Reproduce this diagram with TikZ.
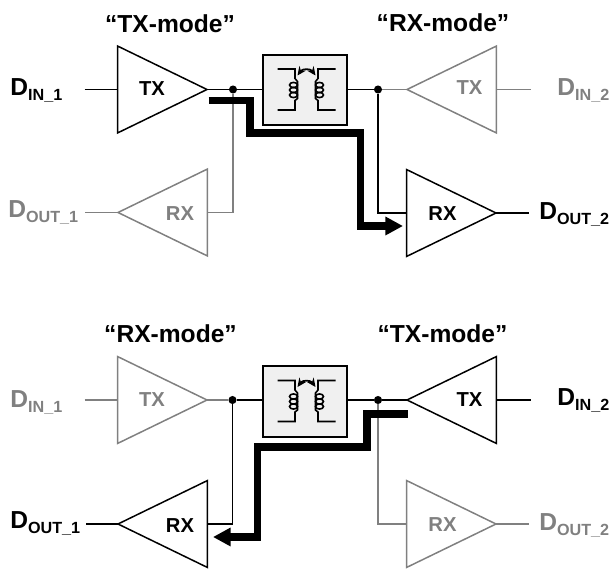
\documentclass[tikz,border=0pt]{standalone}
\usepackage{fontspec}
\setmainfont{Liberation Sans}
\usetikzlibrary{arrows.meta,shapes.geometric}
\definecolor{dimgray}{HTML}{808080}
\definecolor{xfbox}{HTML}{F0F0F0}
\newcommand{\sig}[2]{{\fontsize{14}{14}\selectfont\bfseries #1}{\fontsize{9.2}{10}\selectfont\bfseries\raisebox{-2.3pt}{#2}}}

\begin{document}
\begin{tikzpicture}[x=0.02cm,y=-0.02cm]
\tikzstyle{wire}=[line width=0.8pt];
\tikzstyle{amp}=[draw,shape=isosceles triangle,isosceles triangle stretches,minimum height=1.79cm,minimum width=1.74cm,inner sep=0pt,outer sep=0pt,line width=0.85pt,anchor=apex];
\tikzstyle{ampr}=[amp,shape border rotate=0];
\tikzstyle{ampl}=[amp,shape border rotate=180];
\tikzstyle{dot}=[fill,shape=circle,minimum size=4.6pt,inner sep=0pt];
\tikzstyle{xfmr}=[draw,fill=xfbox,minimum width=1.68cm,minimum height=1.41cm,inner sep=0pt,line width=0.9pt];
\tikzstyle{amplabel}=[font=\bfseries\fontsize{11.5}{12}\selectfont];
\tikzstyle{modelabel}=[font=\bfseries\fontsize{14}{14}\selectfont,anchor=base];
\tikzstyle{sigleft}=[anchor=base west,inner sep=0pt];
\tikzstyle{path}=[line width=4pt,-{Triangle[length=10pt,width=10pt]}];
\useasboundingbox (0,0) rectangle (612,570);

% upper half
\node[ampr] (tx1) at (207,89.5) {};
\node[ampl,dimgray] (rx1) at (118,212.5) {};
\node[ampl,dimgray] (tx2) at (407,89.5) {};
\node[ampr] (rx2) at (496,213) {};
\node[xfmr] (xf1) at (305,90) {};
\node[dot] (tap1) at (233,89.5) {};
\node[dot] (tap2) at (378,89.5) {};
\node[amplabel] at (152,88.5) {TX};
\node[amplabel,dimgray] at (180,214) {RX};
\node[amplabel,dimgray] at (469.5,88) {TX};
\node[amplabel] at (442.5,213.5) {RX};
\node[modelabel] at (170,33) {“TX-mode”};
\node[modelabel] at (443,32) {“RX-mode”};
\node[sigleft] (din1) at (10,96) {\sig{D}{IN\_1}};
\node[sigleft,dimgray] (dout1) at (8,218) {\sig{D}{OUT\_1}};
\node[sigleft,dimgray] (din2) at (557,96) {\sig{D}{IN\_2}};
\node[sigleft] (dout2) at (539,220) {\sig{D}{OUT\_2}};
\draw[wire,shorten <=12.5pt] (din1.east |- tx1.lower side) -- (tx1.lower side);
\draw[wire] (tx1.apex) -- (tap1) -- (tap1 -| xf1.west);
\draw[wire] (tap2 -| xf1.east) -- (tap2);
\draw[wire,dimgray] (tap1) |- (rx1.lower side);
\draw[wire,dimgray,shorten >=3.4pt] (rx1.apex) -- (dout1.east |- rx1.apex);
\draw[wire,dimgray] (tap2) -- (tx2.apex);
\draw[wire,dimgray,shorten >=14.7pt] (tx2.lower side) -- (din2.west |- tx2.lower side);
\draw[wire] (tap2) |- (rx2.lower side);
\draw[wire,shorten >=5.7pt] (rx2.apex) -- (dout2.west |- rx2.apex);
\coordinate (pathA) at (208.5,100.5);
\coordinate (pathB) at (403,226);
\draw[path] (pathA) -| (250,133) -| (360.5,226) -- (pathB);

% lower half
\node[ampr,dimgray] (tx3) at (207,400) {};
\node[ampl] (rx3) at (118,524) {};
\node[ampl] (tx4) at (407,400) {};
\node[ampr,dimgray] (rx4) at (496,524) {};
\node[xfmr] (xf2) at (305,401.5) {};
\node[dot] (tap3) at (232.5,400) {};
\node[dot] (tap4) at (378,400) {};
\node[amplabel,dimgray] at (152,400) {TX};
\node[amplabel] at (180,526) {RX};
\node[amplabel] at (469.5,400) {TX};
\node[amplabel,dimgray] at (442.5,525) {RX};
\node[modelabel] at (170.5,343) {“RX-mode”};
\node[modelabel] at (442.5,343) {“TX-mode”};
\node[sigleft,dimgray] (din3) at (10,408) {\sig{D}{IN\_1}};
\node[sigleft] (dout3) at (10,529) {\sig{D}{OUT\_1}};
\node[sigleft] (din4) at (557,406) {\sig{D}{IN\_2}};
\node[sigleft,dimgray] (dout4) at (539,531) {\sig{D}{OUT\_2}};
\draw[wire,dimgray,shorten <=12.5pt] (din3.east |- tx3.lower side) -- (tx3.lower side);
\draw[wire,dimgray] (tx3.apex) -- (tap3);
\draw[wire] (tap3) -- (tap3 -| xf2.west);
\draw[wire] (tap4 -| xf2.east) -- (tap4) -- (tx4.apex);
\draw[wire] (tap3) |- (rx3.lower side);
\draw[wire,shorten >=3pt] (rx3.apex) -- (dout3.east |- rx3.apex);
\draw[wire,shorten >=14.7pt] (tx4.lower side) -- (din4.west |- tx4.lower side);
\draw[wire,dimgray] (tap4) |- (rx4.lower side);
\draw[wire,dimgray,shorten >=5.7pt] (rx4.apex) -- (dout4.west |- rx4.apex);
\coordinate (pathC) at (407.5,414);
\coordinate (pathD) at (213,537);
\draw[path] (pathC) -| (367,447) -| (257.5,537) -- (pathD);

% transformer symbols
\foreach \yc in {89.5,401} {
	\begin{scope}[shift={(306.5,\yc)}]
	\foreach \s in {1,-1} {
		\draw[line width=0.9pt,xscale=\s] (-29,-20.5) -- (-11.5,-20.5) -- (-11.5,-11) -- (-9,-8) -- (-9,9) -- (-11.5,11) -- (-11.5,20.5) -- (-29,20.5);
		\foreach \c in {-4.5,0.5,5.5} {
			\draw[line width=0.9pt,xscale=\s] (-13,\c) ellipse (4 and 2.6);
		}
	}
	\draw[line width=1pt,{Stealth[length=5pt,width=4.5pt]}-{Stealth[length=5pt,width=4.5pt]}] (-9,-14) .. controls (-4,-21) and (4,-21) .. (9,-14);
	\end{scope}
}
\end{tikzpicture}
\end{document}
